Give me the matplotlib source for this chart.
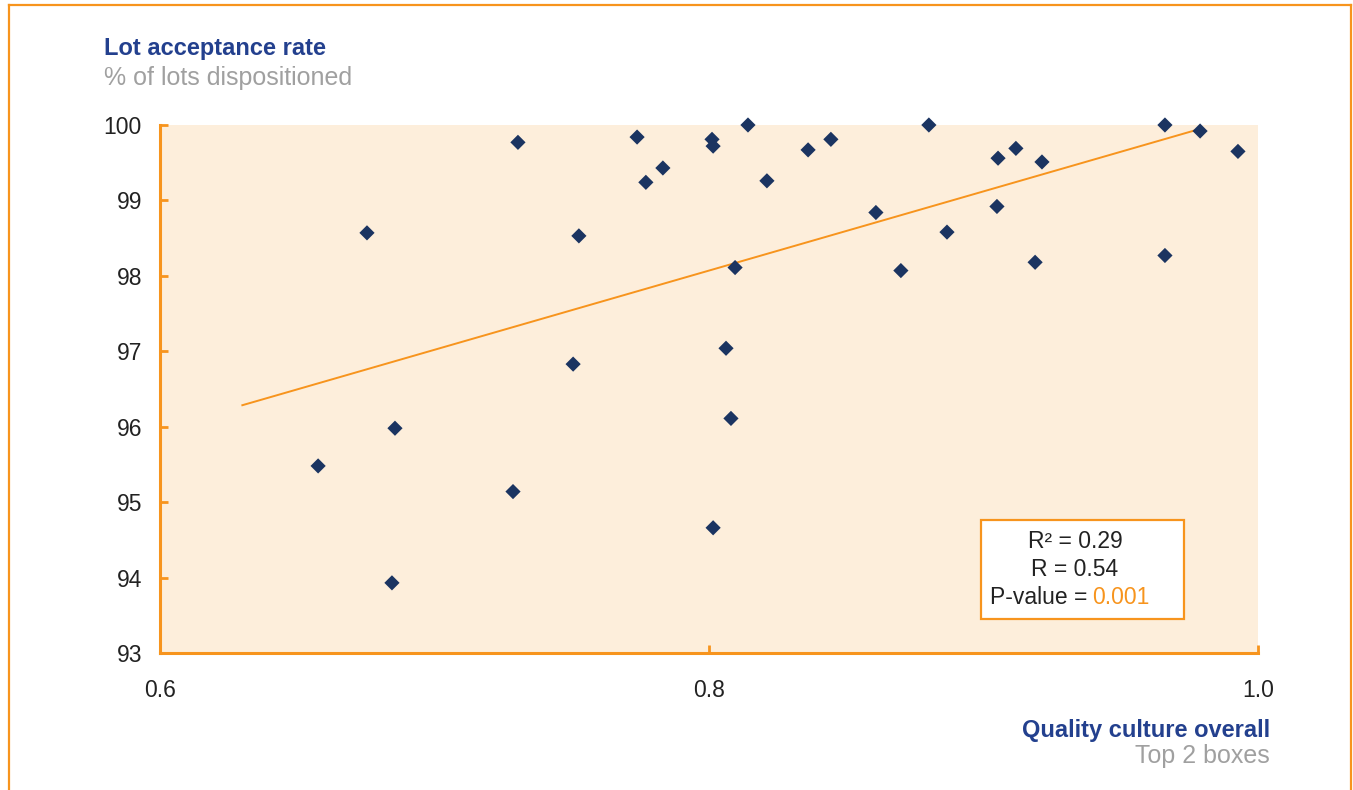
import matplotlib
matplotlib.use("Agg")
import matplotlib.pyplot as plt
from matplotlib.patches import Rectangle
from matplotlib.lines import Line2D
import numpy as np

plt.rcParams['font.family'] = ['Liberation Sans', 'DejaVu Sans']

# Quality culture score (top 2 boxes) per site
quality_culture = [0.6576, 0.6754, 0.6856, 0.6845, 0.7286, 0.7304, 0.7505, 0.7526,
                   0.7738, 0.7770, 0.7832, 0.8011, 0.8015, 0.8015, 0.8062, 0.8080,
                   0.8095, 0.8142, 0.8211, 0.8361, 0.8444, 0.8608, 0.8699, 0.8801,
                   0.8867, 0.9053, 0.9049, 0.9118, 0.9188, 0.9213, 0.9661, 0.9661,
                   0.9789, 0.9927]
# Lot acceptance rate, % of lots dispositioned
lot_acceptance = [95.48, 98.57, 95.98, 93.93, 95.14, 99.77, 96.83, 98.53,
                  99.84, 99.24, 99.43, 99.81, 99.72, 94.66, 97.04, 96.11,
                  98.11, 100.0, 99.26, 99.67, 99.81, 98.84, 98.07, 100.0,
                  98.58, 99.56, 98.92, 99.69, 98.18, 99.51, 100.0, 98.27,
                  99.92, 99.65]

# Linear trend
trend_slope = 10.5
trend_intercept = 89.67
trend_x = [0.630, 0.979]

x_ticks = [0.6, 0.8, 1.0]
x_tick_labels = ["0.6", "0.8", "1.0"]
y_ticks = [93, 94, 95, 96, 97, 98, 99, 100]

stats_r2 = "0.29"
stats_r = "0.54"
stats_p = "0.001"

ORANGE = "#f7941d"
NAVY = "#1b3461"
TITLE_BLUE = "#23408e"
GREY = "#a0a0a0"
FILL = "#fdeedb"
TEXT = "#222222"

W, H = 1353, 790
fig = plt.figure(figsize=(W / 100, H / 100), dpi=100)
fig.patch.set_facecolor("white")

ax = fig.add_axes([160 / W, 1 - 653 / H, (1258 - 160) / W, (653 - 125) / H])
ax.set_facecolor(FILL)
ax.set_xlim(0.6, 1.0)
ax.set_ylim(93, 100)

for side in ("top", "right"):
    ax.spines[side].set_visible(False)
for side in ("left", "bottom"):
    ax.spines[side].set_color(ORANGE)
    ax.spines[side].set_linewidth(2.2)

ax.set_xticks(x_ticks)
ax.set_xticklabels(x_tick_labels)
ax.set_yticks(y_ticks)
ax.tick_params(axis="both", direction="in", length=6, width=2, color=ORANGE,
               labelsize=16.5, labelcolor=TEXT)
ax.tick_params(axis="y", pad=13)
ax.tick_params(axis="x", pad=19)

# Trend line
tx = np.array(trend_x)
ax.plot(tx, trend_slope * tx + trend_intercept, color=ORANGE, lw=1.4, zorder=2)

# Scatter points
ax.scatter(quality_culture, lot_acceptance, marker="D", s=60, color=NAVY,
           edgecolors="none", zorder=3, clip_on=False)

# Statistics box
box = Rectangle((981 / W, 1 - 619 / H), (1184 - 981) / W, (619 - 520) / H,
                transform=fig.transFigure, facecolor="white", edgecolor=ORANGE,
                lw=1.6, zorder=5)
fig.patches.append(box)
fig.text(1075 / W, 1 - 542 / H, "R² = " + stats_r2, ha="center", va="center",
         fontsize=16.5, color=TEXT, zorder=6)
fig.text(1075 / W, 1 - 569 / H, "R = " + stats_r, ha="center", va="center",
         fontsize=16.5, color=TEXT, zorder=6)
t = fig.text(990 / W, 1 - 597 / H, "P-value =", ha="left", va="center",
             fontsize=16.5, color=TEXT, zorder=6)
fig.canvas.draw()
bb = t.get_window_extent()
fig.text((bb.x1 + 5) / W, 1 - 597 / H, stats_p, ha="left", va="center",
         fontsize=16.5, color=ORANGE, zorder=6)

# Axis titles
fig.text(104 / W, 1 - 48 / H, "Lot acceptance rate", ha="left", va="center",
         fontsize=17, color=TITLE_BLUE, fontweight="bold")
fig.text(104 / W, 1 - 78 / H, "% of lots dispositioned", ha="left", va="center",
         fontsize=18, color=GREY)
fig.text(1270 / W, 1 - 731 / H, "Quality culture overall", ha="right", va="center",
         fontsize=17, color=TITLE_BLUE, fontweight="bold")
fig.text(1270 / W, 1 - 756 / H, "Top 2 boxes", ha="right", va="center",
         fontsize=18, color=GREY)

# Outer frame (open at the bottom)
frame_kw = dict(transform=fig.transFigure, color=ORANGE, lw=1.6)
fig.lines.append(Line2D([8.5 / W, 8.5 / W], [0, 1 - 4.5 / H], **frame_kw))
fig.lines.append(Line2D([8.5 / W, 1350.5 / W], [1 - 4.5 / H, 1 - 4.5 / H], **frame_kw))
fig.lines.append(Line2D([1350.5 / W, 1350.5 / W], [0, 1 - 4.5 / H], **frame_kw))

fig.savefig("out.png", dpi=100, facecolor="white")
